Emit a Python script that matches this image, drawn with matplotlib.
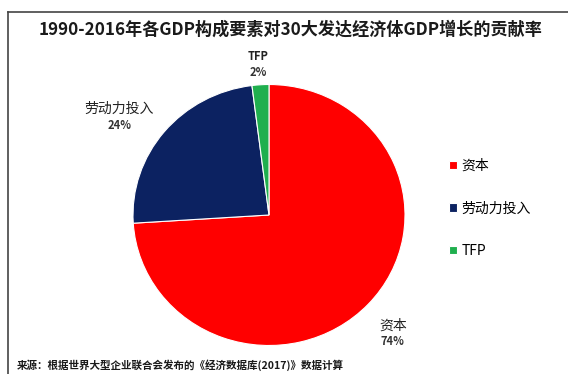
import numpy as np
import matplotlib
matplotlib.use("Agg")
import matplotlib.pyplot as plt
from matplotlib.lines import Line2D

plt.rcParams['font.family'] = ['Noto Sans CJK SC', 'DejaVu Sans']

# contribution shares (%)
factors = ['资本', '劳动力投入', 'TFP']
shares = [74, 24, 2]
colors = ['#FF0000', '#0C2261', '#1FAF4E']

title = '1990-2016年各GDP构成要素对30大发达经济体GDP增长的贡献率'
source = '来源：根据世界大型企业联合会发布的《经济数据库(2017)》数据计算'

W, H = 568, 374
fig = plt.figure(figsize=(W / 100, H / 100), dpi=100)

# pie axes: centre (269, 215) px, 272 x 261 px
cx, cy, rw, rh = 269, 215, 136, 130.5
ax = fig.add_axes([(cx - rw) / W, (H - cy - rh) / H, 2 * rw / W, 2 * rh / H])
wedges, _ = ax.pie(shares, colors=colors, startangle=90, counterclock=False,
                   radius=1, wedgeprops=dict(edgecolor='white', linewidth=0.8))
ax.set_xlim(-1, 1)
ax.set_ylim(-1, 1)
ax.set_aspect('auto')

# data labels, placed radially from each wedge's mid angle
label_dist = [(1.25, 1.32), (1.43, 1.18), (1.27, 1.16)]
start = 90.0
for name, val, (rx, ry) in zip(factors, shares, label_dist):
    mid = np.deg2rad(start - val / sum(shares) * 360 / 2)
    start -= val / sum(shares) * 360
    x, y = rx * np.cos(mid), ry * np.sin(mid)
    bold = 'bold' if name == 'TFP' else 'normal'
    fs = 8 if name == 'TFP' else 10
    ax.annotate(name, (x, y), xytext=(0, 5.5), textcoords='offset points',
                ha='center', va='center', fontsize=fs, fontweight=bold,
                color='#222222', annotation_clip=False)
    ax.annotate(f'{val}%', (x, y), xytext=(0, -6.5), textcoords='offset points',
                ha='center', va='center', fontsize=8, fontweight='bold',
                color='#333333', annotation_clip=False)

fig.legend(wedges, factors, loc='upper left',
           bbox_to_anchor=(449 / W, 1 - 159 / H), frameon=False,
           fontsize=10, handlelength=0.55, handleheight=0.55,
           handletextpad=0.35, labelspacing=2.05, borderpad=0, borderaxespad=0)

fig.text(291 / W, 1 - 30 / H, title, ha='center', va='center',
         fontsize=12.3, fontweight='heavy', color='#1a1a1a')
fig.text(17 / W, 1 - 365 / H, source, ha='left', va='center',
         fontsize=7.6, fontweight='bold', color='#1a1a1a')

# chart frame: top and left edges
fig.add_artist(Line2D([8 / W, 1], [1 - 12 / H, 1 - 12 / H],
                      transform=fig.transFigure, color='#444444', linewidth=1.2))
fig.add_artist(Line2D([8 / W, 8 / W], [0, 1 - 12 / H],
                      transform=fig.transFigure, color='#444444', linewidth=1.2))

fig.savefig('out.png', dpi=100)
